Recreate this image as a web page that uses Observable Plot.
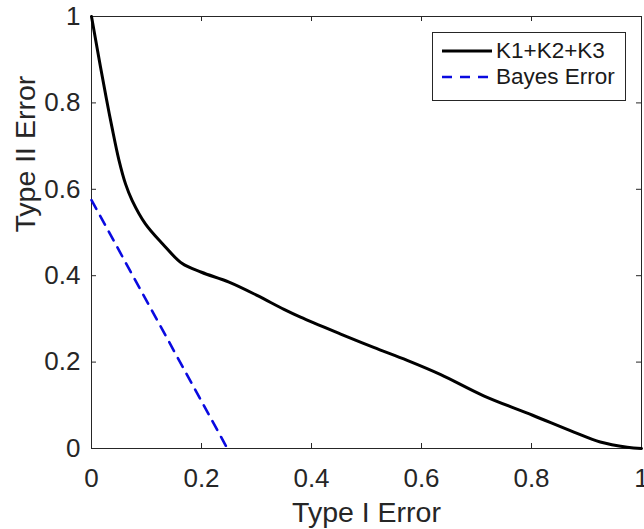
<!DOCTYPE html>
<html>
<head>
<meta charset="utf-8">
<script src="https://cdn.jsdelivr.net/npm/d3@7"></script>
<script src="https://cdn.jsdelivr.net/npm/@observablehq/plot@0.6"></script>
<style>
  body { margin: 0; background: #fff; }
  #wrap { position: relative; width: 644px; height: 529px; font-family: "Liberation Sans", Arial, sans-serif; color: #262626; }
  #legend { position: absolute; left: 432px; top: 32px; width: 192px; height: 67px; border: 1px solid #262626; background: #fff; }
  .row { position: absolute; left: 0; height: 26px; display: flex; align-items: center; }
  .row svg { margin-left: 9px; margin-right: 4px; }
  .row span { font-size: 22.5px; line-height: 26px; color: #1a1a1a; }
</style>
</head>
<body>
<div id="wrap"></div>
<script>
// Series: K1+K2+K3 trade-off curve
const typeI  = [0, 0.014, 0.027, 0.037, 0.050, 0.062, 0.074, 0.098, 0.129, 0.165, 0.200, 0.250, 0.300, 0.350, 0.380, 0.453, 0.513, 0.574, 0.635, 0.713, 0.802, 0.877, 0.925, 0.974, 1];
const typeII = [1, 0.900, 0.810, 0.745, 0.667, 0.612, 0.574, 0.520, 0.474, 0.428, 0.408, 0.385, 0.355, 0.322, 0.304, 0.265, 0.234, 0.204, 0.171, 0.122, 0.077, 0.038, 0.015, 0.003, 0];
// Series: Bayes Error
const bayesX = [0, 0.247];
const bayesY = [0.575, 0];
// Ticks and labels
const xTicks = [0, 0.2, 0.4, 0.6, 0.8, 1];
const yTicks = [0, 0.2, 0.4, 0.6, 0.8, 1];
const xTitle = "Type I Error";
const yTitle = "Type II Error";
const seriesNames = ["K1+K2+K3", "Bayes Error"];
const seriesColors = ["#000000", "#0a0ae0"];

const curve = typeI.map((x, i) => ({x, y: typeII[i]}));
const bayes = bayesX.map((x, i) => ({x, y: bayesY[i]}));
const axisColor = "#262626";
const font = "'Liberation Sans', Arial, sans-serif";

const chart = Plot.plot({
  width: 644, height: 529,
  marginLeft: 91, marginRight: 3, marginTop: 16, marginBottom: 81,
  style: {fontFamily: font, background: "#fff", color: axisColor, overflow: "visible"},
  x: {domain: [0, 1]},
  y: {domain: [0, 1]},
  marks: [
    Plot.frame({stroke: axisColor, strokeWidth: 1}),
    Plot.axisX(xTicks, {tickSize: 0, tickPadding: 20, fontSize: 26, tickFormat: d => String(d), label: null, fill: axisColor}),
    Plot.axisY(yTicks, {tickSize: 0, tickPadding: 11, fontSize: 26, tickFormat: d => String(d), label: null, fill: axisColor}),
    Plot.tickX(xTicks, {x: d => d, insetTop: 427, stroke: axisColor}),
    Plot.tickX(xTicks, {x: d => d, insetBottom: 427, stroke: axisColor}),
    Plot.tickY(yTicks, {y: d => d, insetRight: 545, stroke: axisColor}),
    Plot.tickY(yTicks, {y: d => d, insetLeft: 545, stroke: axisColor}),
    Plot.text([xTitle], {frameAnchor: "bottom", dy: 64, fontSize: 28.5, lineAnchor: "middle", fill: axisColor}),
    Plot.text([yTitle], {frameAnchor: "left", dx: -66, rotate: -90, fontSize: 28.5, lineAnchor: "middle", fill: axisColor}),
    Plot.line(bayes, {x: "x", y: "y", stroke: seriesColors[1], strokeWidth: 2.6, strokeDasharray: "10,8"}),
    Plot.line(curve, {x: "x", y: "y", stroke: seriesColors[0], strokeWidth: 3, curve: "catmull-rom"})
  ]
});

const wrap = document.getElementById("wrap");
wrap.appendChild(chart);

const legend = document.createElement("div");
legend.id = "legend";
seriesNames.forEach((name, i) => {
  const row = document.createElement("div");
  row.className = "row";
  row.style.top = (i === 0 ? 5 : 31) + "px";
  const dash = i === 1 ? 'stroke-dasharray="10,8"' : "";
  row.innerHTML = `<svg width="50" height="10"><line x1="0" x2="50" y1="5" y2="5" stroke="${seriesColors[i]}" stroke-width="${i === 0 ? 3 : 2.6}" ${dash}/></svg><span>${name}</span>`;
  legend.appendChild(row);
});
wrap.appendChild(legend);
</script>
</body>
</html>
